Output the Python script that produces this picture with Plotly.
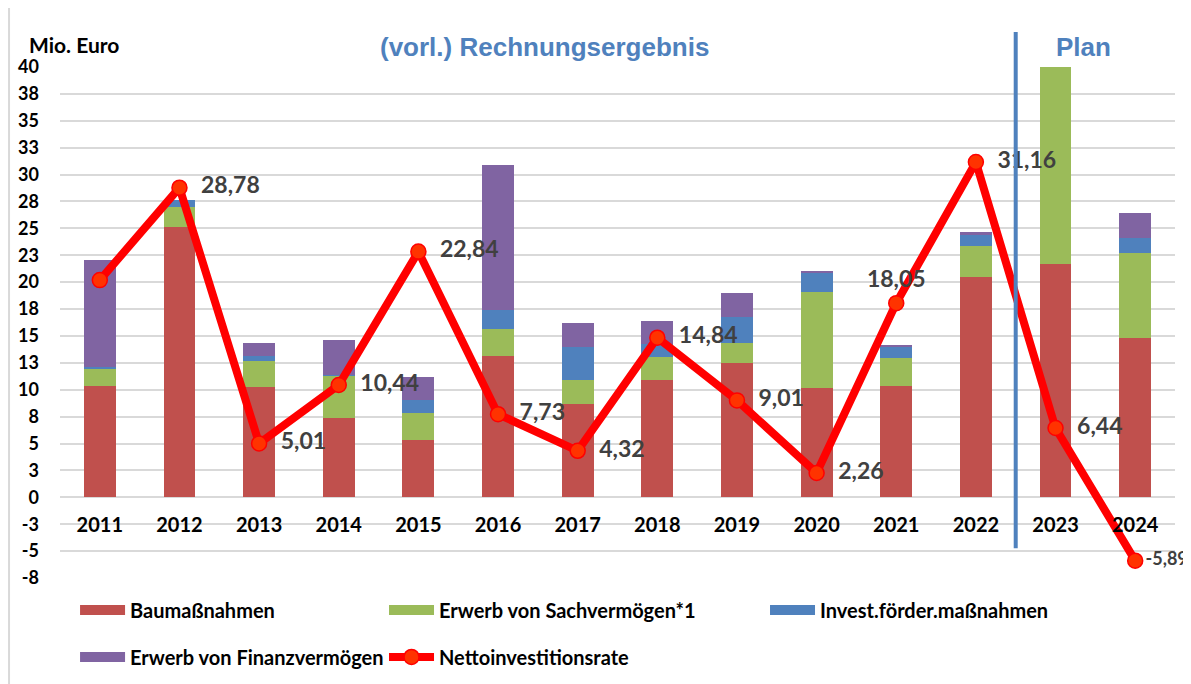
import plotly.graph_objects as go

# ---------------- data ----------------
years = ["2011", "2012", "2013", "2014", "2015", "2016", "2017",
         "2018", "2019", "2020", "2021", "2022", "2023", "2024"]
baumassnahmen = [10.36, 25.10, 10.23, 7.38, 5.30, 13.15, 8.68,
                 10.88, 12.50, 10.17, 10.33, 20.47, 21.71, 14.82]
sachvermoegen = [1.57, 1.90, 2.42, 3.94, 2.54, 2.48, 2.27,
                 2.14, 1.83, 8.93, 2.63, 2.88, 19.00, 7.85]
investfoerder = [0.15, 0.60, 0.53, 0.09, 1.25, 1.77, 3.00,
                 1.21, 2.45, 1.77, 1.02, 1.12, 0.00, 1.39]
finanzvermoegen = [10.00, 0.00, 1.21, 3.20, 2.14, 13.48, 2.27,
                   2.17, 2.20, 0.15, 0.16, 0.15, 0.00, 2.33]
nettoinvestitionsrate = [20.19, 28.78, 5.01, 10.44, 22.84, 7.73, 4.32,
                         14.84, 9.01, 2.26, 18.05, 31.16, 6.44, -5.89]
labelled = [False] + [True] * 13

y_tick_vals = [-7.5, -5, -2.5, 0, 2.5, 5, 7.5, 10, 12.5, 15, 17.5, 20,
               22.5, 25, 27.5, 30, 32.5, 35, 37.5, 40]
y_tick_text = ["-8", "-5", "-3", "0", "3", "5", "8", "10", "13", "15", "18", "20",
               "23", "25", "28", "30", "33", "35", "38", "40"]
y_range = [-7.5, 40]

# ---------------- styles ----------------
C_RED = "#C0504D"
C_GREEN = "#9BBB59"
C_BLUE = "#4F81BD"
C_PURPLE = "#8064A2"
FONT = "Lato"
GRID = "#D9D9D9"

fig = go.Figure()

bar_series = [
    ("Baumaßnahmen", baumassnahmen, C_RED, "legend"),
    ("Erwerb von Sachvermögen*1", sachvermoegen, C_GREEN, "legend2"),
    ("Invest.förder.maßnahmen", investfoerder, C_BLUE, "legend3"),
    ("Erwerb von Finanzvermögen", finanzvermoegen, C_PURPLE, "legend"),
]
for name, vals, col, _ in bar_series:
    fig.add_trace(go.Bar(x=years, y=vals, name=name, marker_color=col,
                         marker_line_width=0, showlegend=False))

# legend proxies (wide swatches like the original)
for name, vals, col, lg in bar_series:
    fig.add_trace(go.Scatter(x=[None], y=[None], mode="lines", name=name,
                             line=dict(color=col, width=14),
                             legend=lg, legendgroup=name, showlegend=True))

labels = ["\u00a0\u00a0" + f"{v:.2f}".replace(".", ",") if show else ""
          for v, show in zip(nettoinvestitionsrate, labelled)]
positions = ["middle right"] * len(years)
positions[10] = "top center"
labels[10] = f"{nettoinvestitionsrate[10]:.2f}".replace(".", ",")
labels[-1] = f"{nettoinvestitionsrate[-1]:.2f}".replace(".", ",")
label_sizes = [23] * len(years)
label_sizes[-1] = 18

fig.add_trace(go.Scatter(
    x=years, y=nettoinvestitionsrate, name="Nettoinvestitionsrate",
    mode="lines+markers+text",
    line=dict(color="#FF0000", width=8),
    marker=dict(size=15, color="#FF3300", line=dict(color="#FF0000", width=1.5)),
    text=labels, textposition=positions, cliponaxis=False,
    textfont=dict(family=FONT, size=label_sizes, color="#404040", weight="bold"),
    legend="legend2", legendgroup="Nettoinvestitionsrate"))

# page has an 8px body margin -> figure is 8px smaller, margins shifted
fig.update_layout(
    width=1183, height=676,
    barmode="stack", bargap=0.6,
    plot_bgcolor="white", paper_bgcolor="white",
    margin=dict(l=52, r=16, t=59, b=106, autoexpand=False),
    font=dict(family=FONT, color="black"),
    xaxis=dict(type="category", anchor="free", range=[-0.5, len(years) - 0.5],
               position=(0 - y_range[0]) / (y_range[1] - y_range[0]),
               showgrid=False, showline=False, ticks="",
               ticklabelstandoff=14, automargin=False,
               tickfont=dict(family=FONT, size=20, color="black", weight="bold")),
    yaxis=dict(range=y_range, tickvals=y_tick_vals, ticktext=y_tick_text,
               showgrid=True, gridcolor=GRID, gridwidth=2, zeroline=False,
               showline=False, ticks="", ticklabelstandoff=20, automargin=False,
               tickfont=dict(family=FONT, size=18, color="black", weight="bold")),
)

legend_common = dict(orientation="v", xanchor="left", yanchor="top",
                     y=-0.0243, itemwidth=45, traceorder="grouped",
                     tracegroupgap=18, bgcolor="rgba(0,0,0,0)",
                     font=dict(family=FONT, size=20, color="black", weight="bold"))
fig.update_layout(
    legend=dict(x=0.0135, **legend_common),
    legend2=dict(x=0.2906, **legend_common),
    legend3=dict(x=0.6323, **legend_common),
)

# vertical separator between actual results and plan
fig.add_shape(type="line", xref="x", yref="paper", x0=11.5, x1=11.5,
              y0=0.058, y1=1.0685, line=dict(color=C_BLUE, width=4))
# left frame line
fig.add_shape(type="line", xref="paper", yref="paper", x0=-0.0457, x1=-0.0457,
              y0=-0.25, y1=1.2, line=dict(color=GRID, width=2))

fig.add_annotation(text="Mio. Euro", xref="paper", yref="paper",
                   x=-0.0296, y=1.044, xanchor="left", yanchor="middle",
                   showarrow=False,
                   font=dict(family=FONT, size=21, color="black", weight="bold"))
fig.add_annotation(text="(vorl.) Rechnungsergebnis", xref="paper", yref="paper",
                   x=(544 - 60) / 1115, y=1.04, xanchor="center", yanchor="middle",
                   showarrow=False,
                   font=dict(family="Liberation Sans", size=26,
                             color=C_BLUE, weight="bold"))
fig.add_annotation(text="Plan", xref="paper", yref="paper",
                   x=(1083 - 60) / 1115, y=1.04, xanchor="center", yanchor="middle",
                   showarrow=False,
                   font=dict(family="Liberation Sans", size=26,
                             color=C_BLUE, weight="bold"))

fig.write_html("out.html")
